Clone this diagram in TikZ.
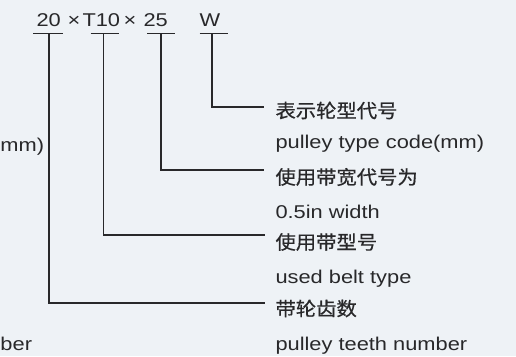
\documentclass[tikz,border=0pt]{standalone}
\usepackage{fontspec}
\setmainfont[FakeStretch=1.18]{Liberation Sans}
\newfontfamily\cjk[FakeStretch=1.07,FakeBold=0.6]{Noto Sans CJK SC}
\definecolor{bg}{RGB}{238,242,246}
\definecolor{ink}{RGB}{40,40,42}
\begin{document}
\begin{tikzpicture}[x=1pt,y=-1pt,
  lat/.style={inner sep=0pt,outer sep=0pt,text=ink,font=\fontsize{18.5}{20}\selectfont},
  zh/.style={inner sep=0pt,outer sep=0pt,text=ink,font=\cjk\fontsize{19}{20}\selectfont},
  ul/.style={draw=ink,line width=1.3pt},
  conn/.style={draw=ink,line width=1.3pt}]
\fill[bg] (0,0) rectangle (516,356);
\useasboundingbox (0,0) rectangle (516,356);
% top code
\node[lat,anchor=base west] (n20) at (36.5,26) {20};
\node[lat,anchor=base] (x1) at (74,26) {×};
\node[lat,anchor=base west] (nT) at (82.5,26) {T10};
\node[lat,anchor=base] (x2) at (130,26) {×};
\node[lat,anchor=base west] (n25) at (143.5,26) {25};
\node[lat,anchor=base west] (nW) at (199.5,26) {W};
% underlines
\draw[ul] (33,33.3) -- (62.7,33.3);
\draw[ul] (90.7,33.3) -- (118.7,33.3);
\draw[ul] (147,33.3) -- (175,33.3);
\draw[ul] (199.5,33.3) -- (228,33.3);
\coordinate (s20) at (49,33.3);
\coordinate (sT) at (103.5,33.3);
\coordinate (s25) at (161,33.3);
\coordinate (sW) at (212,33.3);
\coordinate (eW) at (264,107);
\coordinate (e25) at (264,170);
\coordinate (eT) at (265,235);
\coordinate (e20) at (265,303);
\draw[conn] (sW) |- (eW);
\draw[conn] (s25) |- (e25);
\draw[conn] (sT) |- (eT);
\draw[conn] (s20) |- (e20);
% labels
\node[zh,anchor=west] (zW) at (275.5,110.5) {表示轮型代号};
\node[lat,anchor=base west] (lW) at (275.5,148) {pulley type code(mm)};
\node[zh,anchor=west] (z25) at (275.5,177) {使用带宽代号为};
\node[lat,anchor=base west] (l25) at (275.5,218) {0.5in width};
\node[zh,anchor=west] (zT) at (275.5,242) {使用带型号};
\node[lat,anchor=base west] (lT) at (275.5,283) {used belt type};
\node[zh,anchor=west] (z20) at (275.5,308.5) {带轮齿数};
\node[lat,anchor=base west] (l20) at (275.5,350) {pulley teeth number};
% partial texts at left edge
\node[lat,anchor=base west] (cut1) at (0.5,151) {mm)};
\node[lat,anchor=base west] (cut2) at (0.5,350) {ber};
\end{tikzpicture}
\end{document}
